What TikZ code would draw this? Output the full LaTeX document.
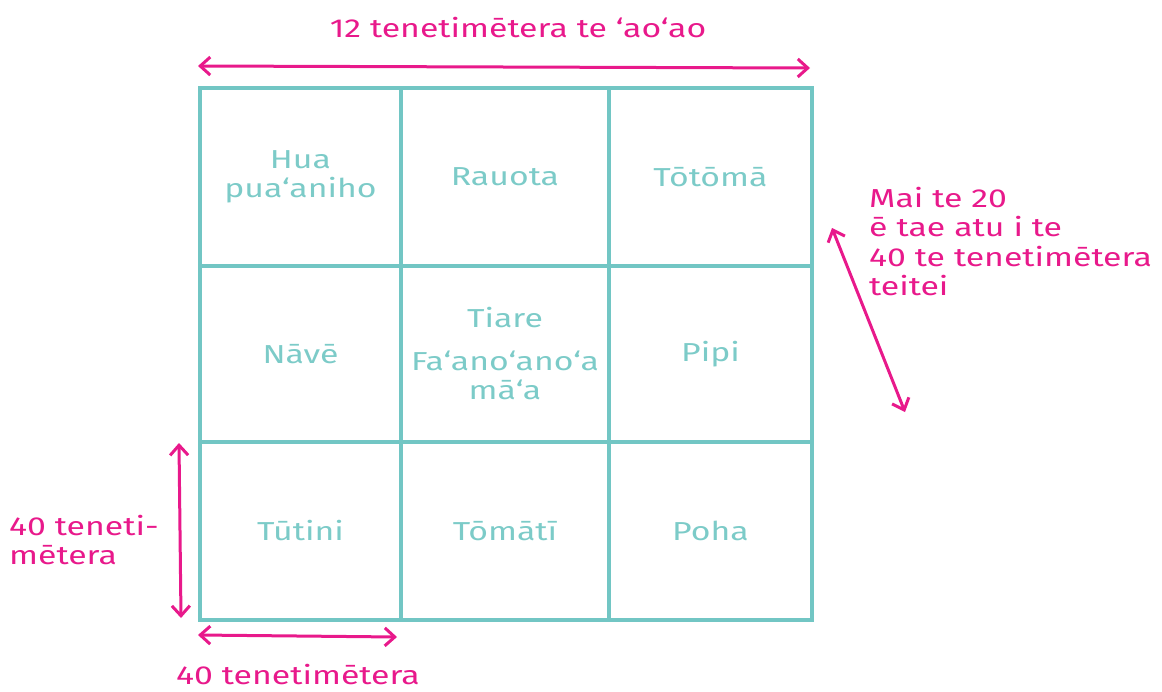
\documentclass[tikz,border=0pt]{standalone}
\usepackage{fontspec}
\setmainfont{Fira Sans}[FakeStretch=1.3]
\usetikzlibrary{arrows.meta}
\definecolor{gridteal}{HTML}{72C6C4}
\definecolor{txtteal}{HTML}{7CCBC8}
\definecolor{mpink}{HTML}{E8198B}
\begin{document}
\begin{tikzpicture}[x=1pt,y=-1pt,
  cell/.style={draw=gridteal,line width=4pt,rectangle,inner sep=0pt,align=center,
    text=txtteal,font=\fontsize{26}{29}\selectfont},
  pinktext/.style={text=mpink,font=\fontsize{26}{29.5}\selectfont,inner sep=0pt},
  dimarrow/.style={draw=mpink,line width=3pt,{Straight Barb[length=10pt,width=18pt,line width=3pt]}-{Straight Barb[length=10pt,width=18pt,line width=3pt]}}
]
\useasboundingbox (0,0) rectangle (1162,691);
% grid cells
\node[cell,minimum width=201pt,minimum height=178pt] (c11) at (300.5,177) {Hua\\pua‘aniho};
\node[cell,minimum width=208pt,minimum height=178pt] (c12) at (505,177) {Rauota};
\node[cell,minimum width=203pt,minimum height=178pt] (c13) at (710.5,177) {Tōtōmā};
\node[cell,minimum width=201pt,minimum height=176pt] (c21) at (300.5,354) {Nāvē};
\node[cell,minimum width=208pt,minimum height=176pt] (c22) at (505,354) {Tiare\\[14pt]Fa‘ano‘ano‘a\\mā‘a};
\node[cell,minimum width=203pt,minimum height=176pt] (c23) at (710.5,354) {Pipi};
\node[cell,minimum width=201pt,minimum height=178pt] (c31) at (300.5,531) {Tūtini};
\node[cell,minimum width=208pt,minimum height=178pt] (c32) at (505,531) {Tōmātī};
\node[cell,minimum width=203pt,minimum height=178pt] (c33) at (710.5,531) {Poha};
% labels
\node[pinktext] (ttop) at (518,28) {12 tenetimētera te ‘ao‘ao};
\node[pinktext,anchor=north west,align=left] (tright) at (869,187) {Mai te 20\\ē tae atu i te\\40 te tenetimētera\\teitei};
\node[pinktext,anchor=west,align=left] (tleft) at (9,540) {40 teneti-\\mētera};
\node[pinktext] (tbot) at (298,675) {40 tenetimētera};
% arrow endpoints
\coordinate (a1) at (198,66);
\coordinate (a2) at (810,68);
\coordinate (b1) at (832,228);
\coordinate (b2) at (905,412);
\coordinate (l1) at (179,443);
\coordinate (l2) at (181,618);
\coordinate (d1) at (198,635);
\coordinate (d2) at (397,637);
\draw[dimarrow] (a1) -- (a2);
\draw[dimarrow] (b1) -- (b2);
\draw[dimarrow] (l1) -- (l2);
\draw[dimarrow] (d1) -- (d2);
\end{tikzpicture}
\end{document}
